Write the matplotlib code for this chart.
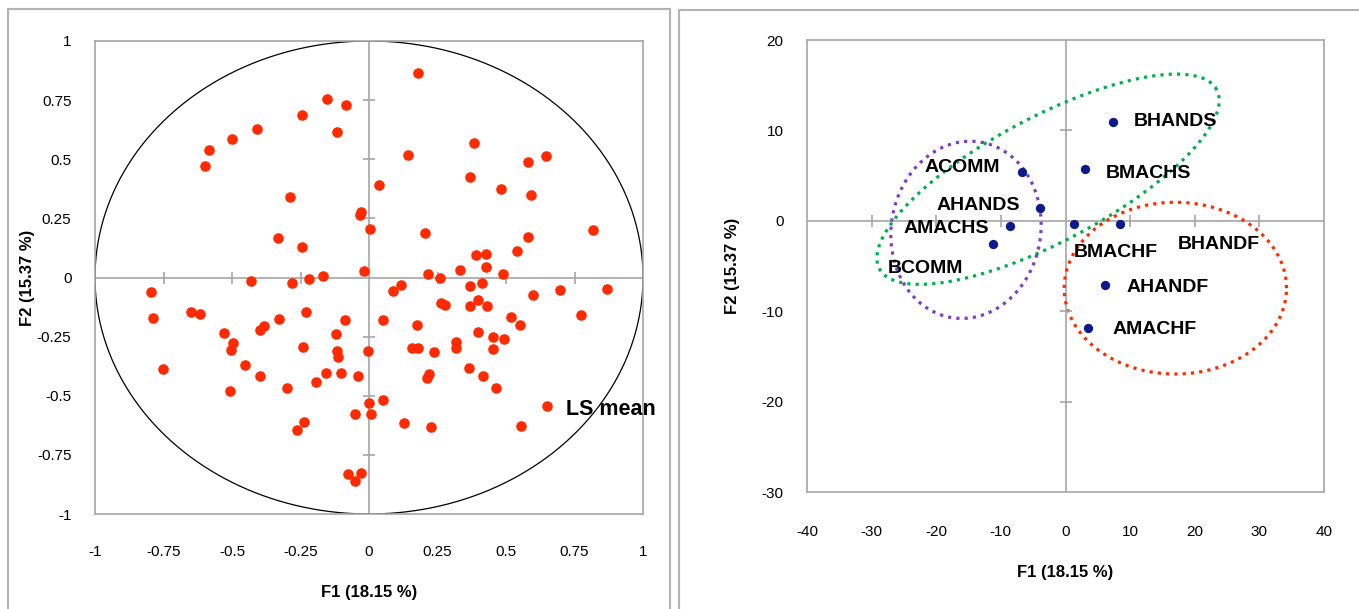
"""Two PCA panels: variable correlation circle and product map."""

import numpy as np
from matplotlib import pyplot as plt
from matplotlib.patches import Rectangle

plt.rcParams['font.family'] = ['Liberation Sans', 'DejaVu Sans']
plt.rcParams['axes.unicode_minus'] = False

# Left panel: loadings of the sensory attributes on F1 / F2
ls_f1 = [-0.154, -0.084, -0.245, -0.116, -0.408, -0.501, -0.584, -0.597, 0.038, -0.290,
         -0.028, -0.032, 0.005, -0.331, -0.245, -0.019, -0.431, -0.280, -0.219, -0.167,
         0.180, 0.382, 0.144, 0.646, 0.581, 0.367, 0.480, 0.592, 0.204, 0.816,
         0.580, 0.540, 0.392, 0.428, 0.428, 0.331, 0.215, 0.258, 0.488, 0.118,
         0.370, 0.413, 0.089, 0.597, 0.696, 0.870, 0.773, 0.263, 0.278, 0.370,
         0.399, 0.432, 0.051, 0.175, 0.518, 0.551, 0.396, 0.454, 0.491, 0.317,
         0.316, 0.157, 0.179, 0.238, 0.452, -0.003, 0.365, 0.417, 0.220, 0.213,
         0.462, 0.052, 0.001, 0.008, 0.648, 0.129, 0.226, 0.555,
         -0.795, -0.789, -0.649, -0.615, -0.753, -0.529, -0.496, -0.504, -0.507, -0.453,
         -0.397, -0.382, -0.397, -0.328, -0.301, -0.229, -0.240, -0.192, -0.157, -0.120,
         -0.086, -0.115, -0.112, -0.104, -0.041, -0.050, -0.236, -0.261, -0.075, -0.030,
         -0.052]
ls_f2 = [0.754, 0.731, 0.689, 0.615, 0.627, 0.586, 0.541, 0.472, 0.393, 0.341,
         0.277, 0.266, 0.203, 0.165, 0.131, 0.028, -0.016, -0.024, -0.006, 0.005,
         0.865, 0.568, 0.518, 0.513, 0.489, 0.425, 0.374, 0.349, 0.190, 0.200,
         0.172, 0.112, 0.097, 0.101, 0.044, 0.030, 0.015, -0.003, 0.013, -0.031,
         -0.034, -0.025, -0.058, -0.072, -0.053, -0.050, -0.159, -0.106, -0.117, -0.120,
         -0.095, -0.120, -0.180, -0.199, -0.169, -0.202, -0.232, -0.252, -0.261, -0.272,
         -0.298, -0.296, -0.296, -0.316, -0.302, -0.310, -0.383, -0.416, -0.406, -0.423,
         -0.468, -0.516, -0.531, -0.579, -0.545, -0.617, -0.634, -0.628,
         -0.062, -0.171, -0.147, -0.155, -0.388, -0.235, -0.278, -0.306, -0.481, -0.368,
         -0.220, -0.207, -0.418, -0.175, -0.469, -0.147, -0.292, -0.441, -0.403, -0.240,
         -0.179, -0.311, -0.337, -0.404, -0.417, -0.576, -0.609, -0.644, -0.830, -0.826,
         -0.860]
ls_label = "LS mean"
ls_label_pos = (0.72, -0.56)
left_ticks = [-1, -0.75, -0.5, -0.25, 0, 0.25, 0.5, 0.75, 1]
left_ticklabels = ['-1', '-0.75', '-0.5', '-0.25', '0', '0.25', '0.5', '0.75', '1']

# Right panel: product scores
products = ['BHANDS', 'BMACHS', 'ACOMM', 'AHANDS', 'AMACHS', 'BCOMM',
            'BMACHF', 'BHANDF', 'AHANDF', 'AMACHF']
prod_f1 = [7.4, 3.0, -6.8, -3.9, -8.6, -11.2, 1.3, 8.4, 6.1, 3.5]
prod_f2 = [10.9, 5.7, 5.4, 1.4, -0.6, -2.6, -0.4, -0.4, -7.1, -11.9]
# label anchor (left edge or right edge, vertical centre)
label_x = [10.5, 6.2, -10.2, -7.0, -11.9, -27.5, 1.3, 17.3, 9.5, 7.3]
label_y = [11.0, 5.2, 5.9, 1.7, -0.9, -5.3, -3.5, -2.6, -7.4, -12.0]
label_ha = ['left', 'left', 'right', 'right', 'right', 'left', 'left', 'left', 'left', 'left']
right_xticks = [-40, -30, -20, -10, 0, 10, 20, 30, 40]
right_yticks = [-30, -20, -10, 0, 10, 20]

# Group outlines: centre, first and second semi-axis vectors (data units)
groups = {
    '#00b050': ((-2.7, 4.6), (26.1, 9.9), (-4.5, 6.1)),
    '#7f3fbf': ((-15.4, -1.0), (2.3, 9.7), (11.4, -1.4)),
    '#ff2a00': ((17.0, -7.45), (17.2, 0.0), (0.0, 9.5)),
}

grey = '#a6a6a6'
fig = plt.figure(figsize=(13.59, 6.09), dpi=100)

# panel borders
fig.patches.append(Rectangle((8 / 1359, -0.1), 662 / 1359, 1.1 - 9 / 609,
                             transform=fig.transFigure, fill=False, ec='#b3b3b3', lw=1.5))
fig.patches.append(Rectangle((679 / 1359, -0.1), 0.6, 1.1 - 10 / 609,
                             transform=fig.transFigure, fill=False, ec='#b3b3b3', lw=1.5))

ax1 = fig.add_axes([95 / 1359, 95 / 609, 548 / 1359, 473 / 609])
ax2 = fig.add_axes([807 / 1359, 117 / 609, 517 / 1359, 452 / 609])

for ax in (ax1, ax2):
    for sp in ax.spines.values():
        sp.set_color(grey)
        sp.set_linewidth(1.2)
    ax.axhline(0, color=grey, lw=1.2, zorder=1)
    ax.axvline(0, color=grey, lw=1.2, zorder=1)
    ax.tick_params(length=0, labelsize=11)

# ---- left: correlation circle
t = np.linspace(0, 2 * np.pi, 400)
ax1.plot(np.cos(t), np.sin(t), color='black', lw=0.9, zorder=2)
ax1.scatter(ls_f1, ls_f2, s=58, color='#ff2a00', zorder=3, linewidths=0)
ax1.text(ls_label_pos[0], ls_label_pos[1], ls_label, fontsize=15.5, fontweight='bold',
         va='center', ha='left', zorder=4)
inner = [v for v in left_ticks if v not in (0, -1, 1)]
ax1.plot(inner, [0] * len(inner), ls='none', marker='|', ms=9, mew=1.2, color=grey)
ax1.plot([0] * len(inner), inner, ls='none', marker='_', ms=9, mew=1.2, color=grey)
ax1.set_xlim(-1, 1)
ax1.set_ylim(-1, 1)
ax1.set_xticks(left_ticks, left_ticklabels)
ax1.set_yticks(left_ticks, left_ticklabels)
ax1.tick_params(axis='x', pad=22)
ax1.tick_params(axis='y', pad=17)
ax1.text(0.5, -0.167, 'F1 (18.15 %)', transform=ax1.transAxes, ha='center', va='center',
         fontsize=12, fontweight='bold')
ax1.text(-0.124, 0.5, 'F2 (15.37 %)', transform=ax1.transAxes, ha='center', va='center',
         rotation=90, fontsize=12, fontweight='bold')

# ---- right: products
for color, (c, v1, v2) in groups.items():
    ex = c[0] + v1[0] * np.cos(t) + v2[0] * np.sin(t)
    ey = c[1] + v1[1] * np.cos(t) + v2[1] * np.sin(t)
    ax2.plot(ex, ey, color=color, lw=2.3, ls=(0, (1, 1.6)), zorder=2)
ax2.scatter(prod_f1, prod_f2, s=45, color='#0c1a8a', zorder=3, linewidths=0)
for name, lx, ly, ha in zip(products, label_x, label_y, label_ha):
    ax2.text(lx, ly, name, fontsize=14, fontweight='bold', ha=ha, va='center', zorder=4)
xin = [v for v in right_xticks if v not in (0, -40, 40)]
yin = [v for v in right_yticks if v not in (0, -30, 20)]
ax2.plot(xin, [0] * len(xin), ls='none', marker='|', ms=9, mew=1.2, color=grey)
ax2.plot([0] * len(yin), yin, ls='none', marker='_', ms=9, mew=1.2, color=grey)
ax2.set_xlim(-40, 40)
ax2.set_ylim(-30, 20)
ax2.set_xticks(right_xticks)
ax2.set_yticks(right_yticks)
ax2.tick_params(axis='x', pad=24)
ax2.tick_params(axis='y', pad=17)
ax2.text(0.5, -0.177, 'F1 (18.15 %)', transform=ax2.transAxes, ha='center', va='center',
         fontsize=12, fontweight='bold')
ax2.text(-0.145, 0.5, 'F2 (15.37 %)', transform=ax2.transAxes, ha='center', va='center',
         rotation=90, fontsize=12, fontweight='bold')

fig.savefig('out.png', dpi=100)
